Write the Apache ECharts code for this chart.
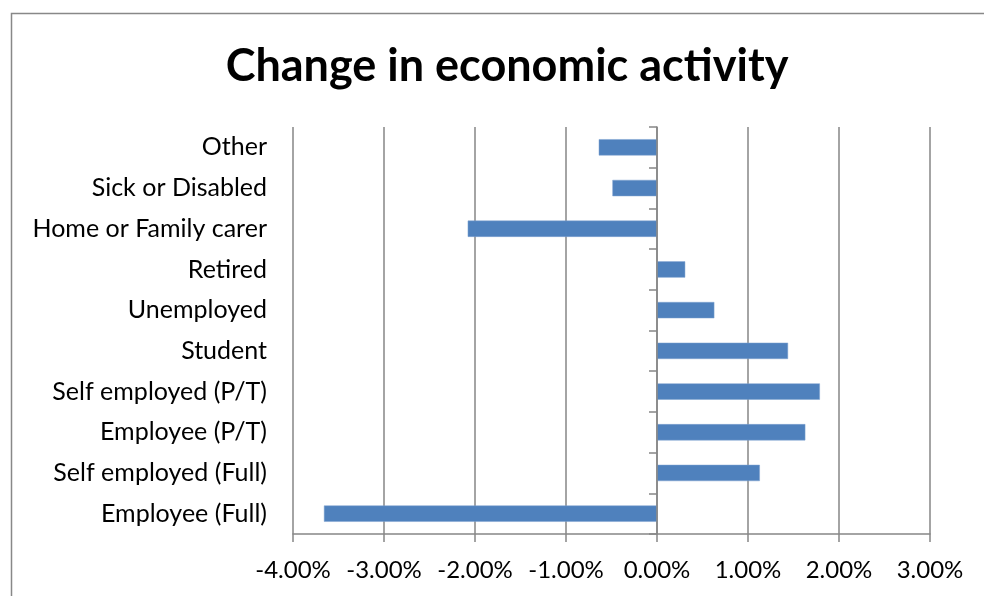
<!DOCTYPE html>
<html>
<head>
<meta charset="utf-8">
<script src="https://cdn.jsdelivr.net/npm/echarts@6/dist/echarts.min.js"></script>
<style>
html,body{margin:0;padding:0;background:#fff;}
#chart{width:984px;height:596px;}
</style>
</head>
<body>
<div id="chart"></div>
<script>
var titleText = "Change in economic activity";
var categories = ["Employee (Full)", "Self employed (Full)", "Employee (P/T)", "Self employed (P/T)", "Student", "Unemployed", "Retired", "Home or Family carer", "Sick or Disabled", "Other"];
var values = [-0.0366, 0.0113, 0.0163, 0.0179, 0.0144, 0.0063, 0.0031, -0.0208, -0.0049, -0.0064];
var xMin = -0.04, xMax = 0.03, xStep = 0.01;

var W = 984, gridLeft = 293, gridRight = 54, gridTop = 127, gridBottom = 62;
var plotW = W - gridLeft - gridRight;
// left edge of the helper grid sits where the value scale reaches 0
var zeroLeft = gridLeft + (0 - xMin) / (xMax - xMin) * plotW;

var chart = echarts.init(document.getElementById('chart'));
var font = 'Lato, "Open Sans", sans-serif';
var gray = '#868686';
chart.setOption({
  animation: false,
  backgroundColor: '#ffffff',
  title: {
    text: titleText,
    left: 502,
    top: 39,
    textAlign: 'center',
    textStyle: {fontFamily: font, fontWeight: 'bold', fontSize: 45, color: '#000'}
  },
  graphic: [{
    type: 'rect',
    shape: {x: 11.5, y: 13.5, width: 1200, height: 800},
    style: {fill: 'none', stroke: '#888', lineWidth: 1.5},
    silent: true
  }],
  grid: [
    {left: gridLeft, right: gridRight, top: gridTop, bottom: gridBottom, containLabel: false},
    {left: zeroLeft, right: gridRight, top: gridTop, bottom: gridBottom, containLabel: false}
  ],
  xAxis: [{
    type: 'value',
    gridIndex: 0,
    min: xMin, max: xMax, interval: xStep,
    position: 'bottom',
    axisLine: {show: true, onZero: false, lineStyle: {color: gray, width: 1.5}},
    axisTick: {show: true, length: 8, lineStyle: {color: gray, width: 1.5}},
    splitLine: {show: true, lineStyle: {color: gray, width: 1.5}},
    axisLabel: {
      margin: 24,
      fontFamily: font, fontSize: 24, color: '#000',
      formatter: function (v) { return (v * 100).toFixed(2) + '%'; }
    }
  }, {
    type: 'value',
    gridIndex: 1,
    min: 0, max: xMax,
    show: false
  }],
  yAxis: [{
    type: 'category',
    gridIndex: 0,
    data: categories,
    position: 'left',
    axisLine: {show: false, onZero: false},
    axisTick: {show: false},
    splitLine: {show: false},
    axisLabel: {margin: 26, fontFamily: font, fontSize: 25, color: '#000'}
  }, {
    type: 'category',
    gridIndex: 1,
    data: categories,
    position: 'left',
    axisLine: {show: true, onZero: false, lineStyle: {color: gray, width: 1.5}},
    axisTick: {show: true, length: 8, lineStyle: {color: gray, width: 1.5}},
    axisLabel: {show: false},
    splitLine: {show: false},
    z: 5
  }],
  series: [{
    type: 'bar',
    data: values,
    xAxisIndex: 0,
    yAxisIndex: 0,
    barWidth: '40%',
    itemStyle: {color: '#4F81BD', borderColor: '#7ea3d0', borderWidth: 0.5},
    z: 1
  }]
});
</script>
</body>
</html>
